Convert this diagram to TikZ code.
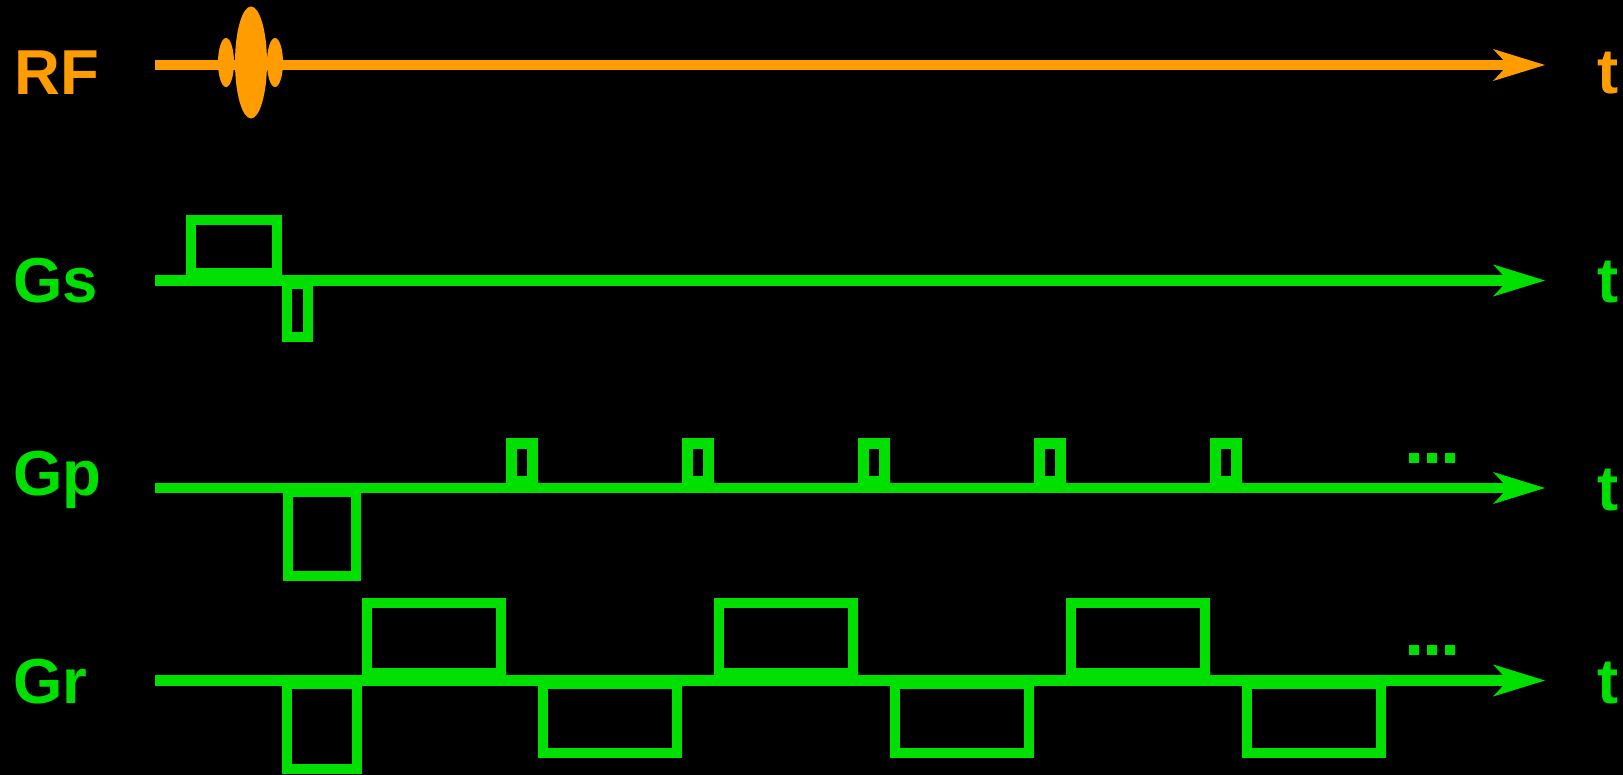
\documentclass[tikz,border=0pt]{standalone}
\usepackage{fontspec}
\setmainfont{Liberation Sans}
\usetikzlibrary{arrows.meta}
\definecolor{rforange}{RGB}{255,157,0}
\definecolor{gradgreen}{RGB}{0,224,0}

\begin{document}
\begin{tikzpicture}[x=1pt, y=-1pt, line join=miter,
  axis/.style={line width=10.5pt, -{Stealth[length=52pt, width=32pt, inset=15pt, line width=0pt]}},
  pulse/.style={line width=10.5pt},
  lbl/.style={font=\fontsize{63.5}{68}\selectfont\bfseries, inner sep=0pt, anchor=base west},
  tlbl/.style={lbl, anchor=base east}]
% geometry: picture in pixels, y downwards, axes at y = 65 / 280.5 / 488 / 680.5
\fill[black] (0,0) rectangle (1623,775);
\useasboundingbox (0,0) rectangle (1623,775);

% ---- axes ----
\foreach \nm/\y/\col in {rf/65/rforange, gs/280.5/gradgreen, gp/488/gradgreen, gr/680.5/gradgreen}{
  \coordinate (\nm0) at (155,\y);
  \coordinate (\nm1) at (1545,\y);
  \draw[axis, \col] (\nm0) -- (\nm1);
}

% ---- RF pulse (sinc lobes) ----
\fill[rforange] (226,62.5) ellipse (8 and 24.5);
\fill[rforange] (275,62.5) ellipse (8 and 24.5);
\fill[rforange] (251,62.5) ellipse (16 and 56);

% ---- slice select ----
\draw[pulse, gradgreen] (191,273.5) rectangle (277,220);
\draw[pulse, gradgreen] (287,284) rectangle (308,337);

% ---- phase encode: prephaser + blips ----
\draw[pulse, gradgreen] (288,491.5) rectangle (356,576);
\foreach \k in {0,...,4}{
  \draw[pulse, gradgreen] ({511.5+176*\k},481) rectangle ({532.5+176*\k},443.5);
}

% ---- readout: prephaser + alternating lobes ----
\draw[pulse, gradgreen] (287,684) rectangle (357,769);
\foreach \k in {0,...,2}{
  \draw[pulse, gradgreen] ({367+352*\k},673.5) rectangle ({501+352*\k},603);
  \draw[pulse, gradgreen] ({543+352*\k},684) rectangle ({677+352*\k},753);
}

% ---- continuation dots ----
\foreach \y in {458, 650}{
  \foreach \x in {1414, 1432, 1450}{
    \fill[gradgreen] ({\x-5},{\y-5}) rectangle ({\x+5},{\y+5});
  }
}

% ---- labels ----
\node[lbl, text=rforange] (rflabel) at (14,95) {RF};
\node[lbl, text=gradgreen] (gslabel) at (13,303) {Gs};
\node[lbl, text=gradgreen] (gplabel) at (13,495) {Gp};
\node[lbl, text=gradgreen] (grlabel) at (13,703) {Gr};
\node[tlbl, text=rforange] (rft) at (1619,94) {t};
\node[tlbl, text=gradgreen] (gst) at (1619,303) {t};
\node[tlbl, text=gradgreen] (gpt) at (1619,511) {t};
\node[tlbl, text=gradgreen] (grt) at (1619,703) {t};
\end{tikzpicture}
\end{document}
